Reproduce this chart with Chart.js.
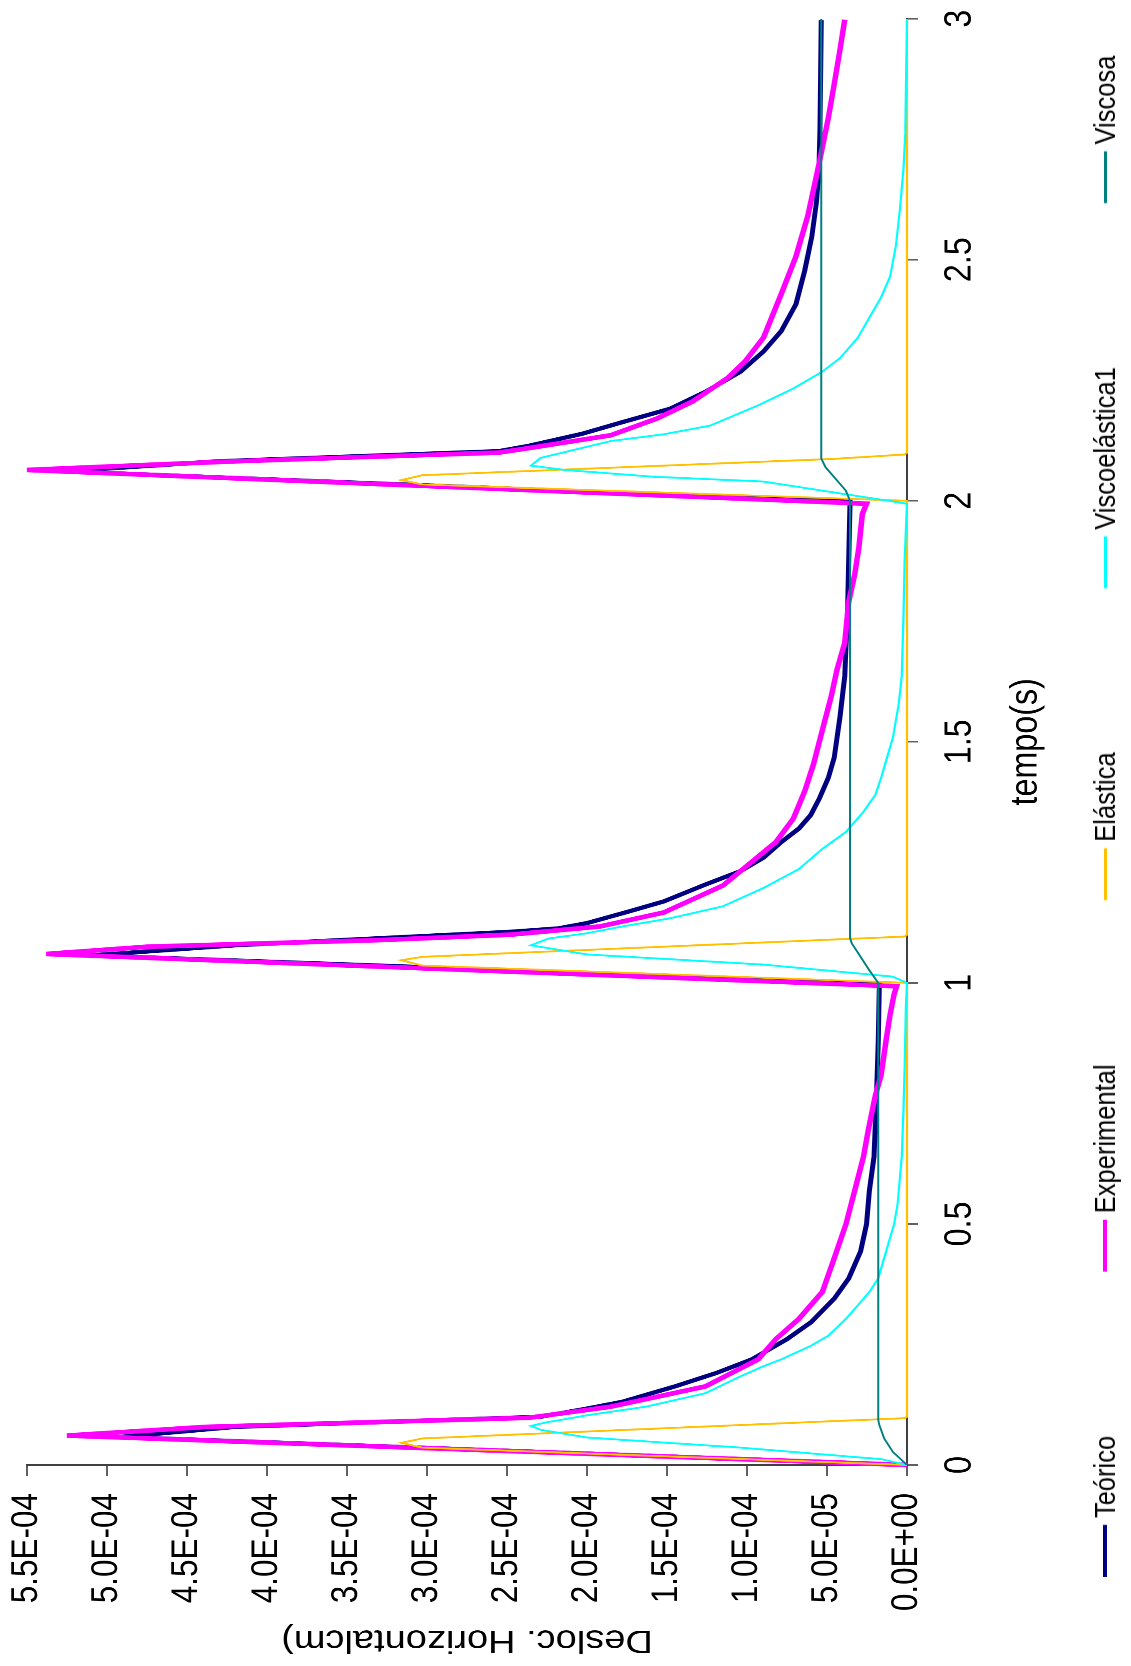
<!DOCTYPE html>
<html>
<head>
<meta charset="utf-8">
<title>Deslocamento horizontal</title>
<script src="https://cdn.jsdelivr.net/npm/chart.js@4.4.0/dist/chart.umd.min.js"></script>
<style>
  html, body { margin: 0; padding: 0; background: #fff; }
  body { width: 1131px; height: 1666px; overflow: hidden; position: relative; }
  /* o gráfico é desenhado deitado e depois girado 90° (como no original) */
  #giro { position: absolute; left: 0; top: 0; width: 1960px; height: 1131px;
          transform-origin: 0 0; transform: translate(0, 1666px) rotate(-90deg) scaleX(0.85); }
  #grafico { position: absolute; left: 0; top: 0; }
  #legenda { position: absolute; left: 105px; top: 1088px; display: flex; align-items: center; gap: 193px;
             font: 30px 'Liberation Sans', Arial, sans-serif; line-height: 34px; color: #000; white-space: nowrap; }
  .item { display: flex; align-items: center; }
  .marca { width: 61px; margin-right: 8px; }
</style>
</head>
<body>
<div id="giro">
  <canvas id="grafico" width="1960" height="1131"></canvas>
  <div id="legenda"></div>
</div>
<script>
// Dados: tempo (s) e deslocamento horizontal (cm)
var teoricoT = [0, 0.058, 0.079, 0.100, 0.117, 0.131, 0.163, 0.191, 0.219, 0.261, 0.296, 0.345, 0.387, 0.443, 0.499, 0.569, 0.639, 0.766, 0.878, 0.999,
                1.057, 1.078, 1.106, 1.113, 1.124, 1.148, 1.169, 1.204, 1.232, 1.260, 1.292, 1.320, 1.348, 1.383, 1.425, 1.467, 1.552, 1.636, 1.692, 1.777, 1.998,
                2.061, 2.082, 2.103, 2.114, 2.139, 2.163, 2.191, 2.226, 2.268, 2.310, 2.352, 2.408, 2.478, 2.548, 2.619, 2.689, 2.773, 2.997];
var teoricoV = [0, 4.92e-4, 4.2e-4, 2.29e-4, 2.0e-4, 1.78e-4, 1.45e-4, 1.19e-4, 9.7e-5, 7.5e-5, 6.0e-5, 4.55e-5, 3.64e-5, 2.9e-5, 2.53e-5, 2.35e-5, 2.06e-5, 1.91e-5, 1.8e-5, 1.73e-5,
                5.10e-4, 4.2e-4, 2.475e-4, 2.18e-4, 2.0e-4, 1.74e-4, 1.52e-4, 1.26e-4, 1.04e-4, 8.96e-5, 7.86e-5, 6.76e-5, 6.02e-5, 5.47e-5, 4.92e-5, 4.55e-5, 4.19e-5, 3.89e-5, 3.82e-5, 3.71e-5, 3.56e-5,
                5.27e-4, 4.3e-4, 2.55e-4, 2.365e-4, 2.03e-4, 1.78e-4, 1.48e-4, 1.26e-4, 1.04e-4, 8.96e-5, 7.86e-5, 6.94e-5, 6.39e-5, 5.95e-5, 5.66e-5, 5.5e-5, 5.44e-5, 5.36e-5];

var experimentalT = [0, 0.061, 0.079, 0.098, 0.121, 0.163, 0.219, 0.261, 0.303, 0.359, 0.429, 0.499, 0.569, 0.639, 0.695, 0.766, 0.808, 0.878, 0.934, 0.976, 0.993,
                     1.060, 1.075, 1.089, 1.100, 1.117, 1.146, 1.202, 1.251, 1.292, 1.341, 1.397, 1.454, 1.524, 1.594, 1.650, 1.706, 1.791, 1.847, 1.903, 1.973, 1.994,
                     2.064, 2.082, 2.100, 2.111, 2.136, 2.171, 2.206, 2.255, 2.290, 2.339, 2.429, 2.507, 2.591, 2.703, 2.794, 2.864, 2.935, 2.998];
var experimentalV = [0, 5.25e-4, 4.38e-4, 2.36e-4, 1.85e-4, 1.26e-4, 9.3e-5, 8.2e-5, 6.76e-5, 5.29e-5, 4.55e-5, 3.82e-5, 3.27e-5, 2.72e-5, 2.42e-5, 1.98e-5, 1.62e-5, 1.32e-5, 1.06e-5, 8.1e-6, 6.5e-6,
                     5.38e-4, 4.75e-4, 3.28e-4, 2.48e-4, 1.92e-4, 1.52e-4, 1.15e-4, 9.7e-5, 8.2e-5, 7.1e-5, 6.4e-5, 5.84e-5, 5.29e-5, 4.74e-5, 4.37e-5, 3.89e-5, 3.64e-5, 3.27e-5, 3.01e-5, 2.79e-5, 2.53e-5,
                     5.50e-4, 4.2e-4, 2.55e-4, 2.33e-4, 1.85e-4, 1.56e-4, 1.34e-4, 1.12e-4, 1.01e-4, 8.96e-5, 7.86e-5, 6.94e-5, 6.2e-5, 5.47e-5, 4.92e-5, 4.55e-5, 4.19e-5, 3.89e-5];

var elasticaT = [0, 0.036, 0.046, 0.055, 0.091, 0.097, 0.100,
                 1.000, 1.036, 1.047, 1.054, 1.090, 1.096, 1.100,
                 2.000, 2.034, 2.043, 2.053, 2.087, 2.096, 2.100, 3.000];
var elasticaV = [0, 3.03e-4, 3.16e-4, 3.03e-4, 4.55e-5, 1.5e-6, 0,
                 0, 3.03e-4, 3.16e-4, 3.03e-4, 4.55e-5, 1.5e-6, 0,
                 0, 3.03e-4, 3.16e-4, 3.03e-4, 4.55e-5, 1.5e-6, 0, 0];

var viscoelasticaT = [0, 0.012, 0.036, 0.057, 0.073, 0.081, 0.088, 0.103, 0.121, 0.149, 0.184, 0.205, 0.219, 0.247, 0.268, 0.303, 0.331, 0.359, 0.387, 0.429, 0.471, 0.499, 0.541, 0.597, 0.639, 0.738, 0.822, 0.949, 1.000,
                      1.013, 1.038, 1.059, 1.078, 1.092, 1.103, 1.117, 1.134, 1.159, 1.197, 1.236, 1.278, 1.313, 1.355, 1.390, 1.425, 1.467, 1.509, 1.580, 1.636, 1.762, 1.875, 1.994,
                      2.040, 2.050, 2.064, 2.073, 2.089, 2.124, 2.138, 2.156, 2.198, 2.233, 2.268, 2.296, 2.338, 2.380, 2.422, 2.465, 2.528, 2.605, 2.689, 2.759, 2.998];
var viscoelasticaV = [0, 1.6e-5, 1.04e-4, 2.0e-4, 2.29e-4, 2.35e-4, 2.26e-4, 2.0e-4, 1.63e-4, 1.26e-4, 1.04e-4, 8.96e-5, 7.86e-5, 6.02e-5, 4.92e-5, 3.82e-5, 3.08e-5, 2.35e-5, 1.8e-5, 1.43e-5, 1.06e-5, 8.1e-6, 5.9e-6, 4.4e-6, 3.3e-6, 2.2e-6, 1.5e-6, 7e-7, 0,
                      9e-6, 9.0e-5, 2.0e-4, 2.35e-4, 2.24e-4, 2.0e-4, 1.78e-4, 1.48e-4, 1.15e-4, 8.96e-5, 6.76e-5, 5.29e-5, 3.82e-5, 2.72e-5, 1.98e-5, 1.62e-5, 1.25e-5, 8.8e-6, 5.1e-6, 3.3e-6, 2.2e-6, 1.5e-6, 0,
                      9.0e-5, 1.59e-4, 2.14e-4, 2.35e-4, 2.29e-4, 1.85e-4, 1.52e-4, 1.23e-4, 9.3e-5, 7.1e-5, 5.29e-5, 4.19e-5, 3.08e-5, 2.35e-5, 1.62e-5, 1.06e-5, 7.0e-6, 4.4e-6, 2.2e-6, 1.1e-6, 0];

var viscosaT = [0, 0.027, 0.055, 0.083, 0.094, 1.000, 1.026, 1.054, 1.082, 1.093, 2.000, 2.021, 2.049, 2.070, 2.088, 3.000];
var viscosaV = [0, 8.8e-6, 1.43e-5, 1.73e-5, 1.8e-5, 1.8e-5, 2.35e-5, 2.9e-5, 3.45e-5, 3.56e-5, 3.56e-5, 3.82e-5, 4.55e-5, 5.1e-5, 5.36e-5, 5.36e-5];

var ticksTempo = [0, 0.5, 1, 1.5, 2, 2.5, 3];

function pontos(ts, vs) {
    return ts.map(function (t, i) { return { x: t, y: vs[i] }; });
}

// 5.0E-05, 0.0E+00 ...
function formatoCientifico(v) {
    var partes = Number(v).toExponential(1).split('e');
    var exp = parseInt(partes[1], 10);
    var abs = Math.abs(exp);
    return partes[0] + 'E' + (exp < 0 ? '-' : '+') + (abs < 10 ? '0' : '') + abs;
}

var fonte = "'Liberation Sans', Arial, sans-serif";
Chart.defaults.font.family = fonte;
Chart.defaults.color = '#000';

var series = [
    { label: 'Teórico', data: pontos(teoricoT, teoricoV), borderColor: '#000080', borderWidth: 5, order: 5 },
    { label: 'Experimental', data: pontos(experimentalT, experimentalV), borderColor: '#FF00FF', borderWidth: 5.5, order: 4 },
    { label: 'Elástica', data: pontos(elasticaT, elasticaV), borderColor: '#FFC000', borderWidth: 2.2, order: 3 },
    { label: 'Viscoelástica1', data: pontos(viscoelasticaT, viscoelasticaV), borderColor: '#00FFFF', borderWidth: 2.2, order: 2 },
    { label: 'Viscosa', data: pontos(viscosaT, viscosaV), borderColor: '#008080', borderWidth: 2, order: 1 }
];
series.forEach(function (s) {
    s.backgroundColor = s.borderColor;
    s.pointRadius = 0;
    s.tension = 0;
    s.fill = false;
    s.clip = false;
});

var ctx = document.getElementById('grafico').getContext('2d');
var grafico = new Chart(ctx, {
    type: 'line',
    data: { datasets: series },
    options: {
        responsive: false,
        animation: false,
        devicePixelRatio: 2,
        layout: { padding: { left: 0, top: 27, right: 22, bottom: 50 } },
        plugins: { legend: { display: false }, tooltip: { enabled: false } },
        scales: {
            x: {
                type: 'linear',
                position: 'bottom',
                min: 0,
                max: 3,
                afterBuildTicks: function (axis) {
                    axis.ticks = ticksTempo.map(function (v) { return { value: v }; });
                },
                afterFit: function (axis) { axis.height = 174; },
                border: { display: true, color: '#404040', width: 2 },
                grid: { display: true, drawOnChartArea: false, drawTicks: true, tickLength: 11, color: '#606060', lineWidth: 2 },
                ticks: {
                    padding: 7,
                    maxRotation: 0,
                    font: { size: 38, lineHeight: 1.84 },
                    callback: function (v) { return String(+Number(v).toFixed(2)); }
                },
                title: { display: true, text: 'tempo(s)', font: { size: 38 }, padding: { top: 0, bottom: 32 } }
            },
            y: {
                min: 0,
                max: 5.5e-4,
                afterFit: function (axis) { axis.width = 236.5; },
                border: { display: true, color: '#404040', width: 2 },
                grid: { display: true, drawOnChartArea: false, drawTicks: true, tickLength: 13, color: '#606060', lineWidth: 2 },
                ticks: {
                    stepSize: 5e-5,
                    padding: 20,
                    font: { size: 37, lineHeight: 0.36 },
                    callback: function (v) { return formatoCientifico(v); }
                },
                title: { display: true, text: 'Desloc. Horizontalcm)', font: { size: 38 }, padding: { top: 8, bottom: 0 } }
            }
        }
    }
});

// Legenda em linha, abaixo do eixo do tempo
var legenda = document.getElementById('legenda');
series.forEach(function (s) {
    var item = document.createElement('div');
    item.className = 'item';
    var marca = document.createElement('div');
    marca.className = 'marca';
    marca.style.height = Math.max(3, Math.round(s.borderWidth * 0.8)) + 'px';
    marca.style.background = s.borderColor;
    var texto = document.createElement('span');
    texto.textContent = s.label;
    item.appendChild(marca);
    item.appendChild(texto);
    legenda.appendChild(item);
});
</script>
</body>
</html>
